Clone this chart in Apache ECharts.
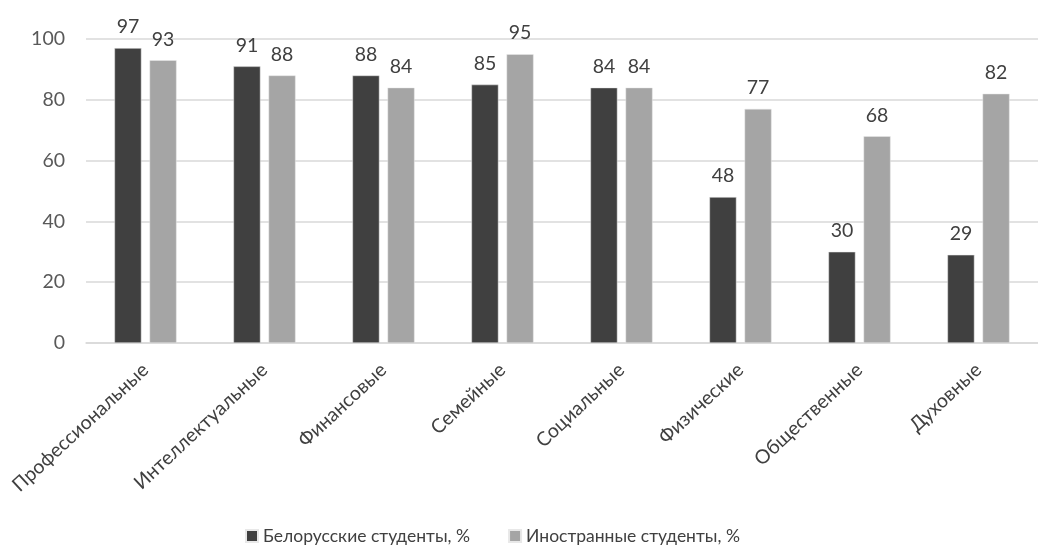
<!DOCTYPE html>
<html><head><meta charset="utf-8">
<script src="https://cdn.jsdelivr.net/npm/echarts@6/dist/echarts.min.js"></script>
<style>html,body{margin:0;padding:0;background:#fff}#c{width:1038px;height:558px}</style>
</head><body><div id="c"></div>
<script>
const categories = ["Профессиональные","Интеллектуальные","Финансовые","Семейные","Социальные","Физические","Общественные","Духовные"];
const belarusian = [97,91,88,85,84,48,30,29];
const foreign = [93,88,84,95,84,77,68,82];
const seriesNames = ["Белорусские студенты, %","Иностранные студенты, %"];
const FONT = "Lato, 'Open Sans', sans-serif";
const chart = echarts.init(document.getElementById('c'));
const lbl = {show:true, position:'top', distance:11, color:'#404040', fontSize:19.5, fontFamily:FONT};
chart.setOption({
  animation:false,
  grid:{left:86, right:-14, top:39, bottom:215, containLabel:false},
  legend:{bottom:8, left:240, itemWidth:12, itemHeight:12, itemGap:38, icon:'rect',
    textStyle:{fontSize:17.5, color:'#404040', fontFamily:FONT}, data:seriesNames},
  xAxis:{type:'category', data:categories,
    axisLine:{show:true, lineStyle:{color:'#d9d9d9', width:1.5}}, axisTick:{show:false},
    axisLabel:{rotate:43, fontSize:19.5, color:'#404040', fontFamily:FONT, margin:24, interval:0}},
  yAxis:{type:'value', min:0, max:100, interval:20,
    axisLine:{show:false}, axisTick:{show:false},
    splitLine:{lineStyle:{color:'#d9d9d9', width:1.5}},
    axisLabel:{fontSize:19.5, color:'#595959', fontFamily:FONT, margin:21}},
  series:[
    {name:seriesNames[0], type:'bar', data:belarusian, barWidth:27, barGap:'30%',
     itemStyle:{color:'#404040', borderColor:'#e8e8e8', borderWidth:0.5}, label:lbl},
    {name:seriesNames[1], type:'bar', data:foreign, barWidth:27,
     itemStyle:{color:'#a5a5a5', borderColor:'#e8e8e8', borderWidth:0.5}, label:lbl}
  ]
});
</script></body></html>
